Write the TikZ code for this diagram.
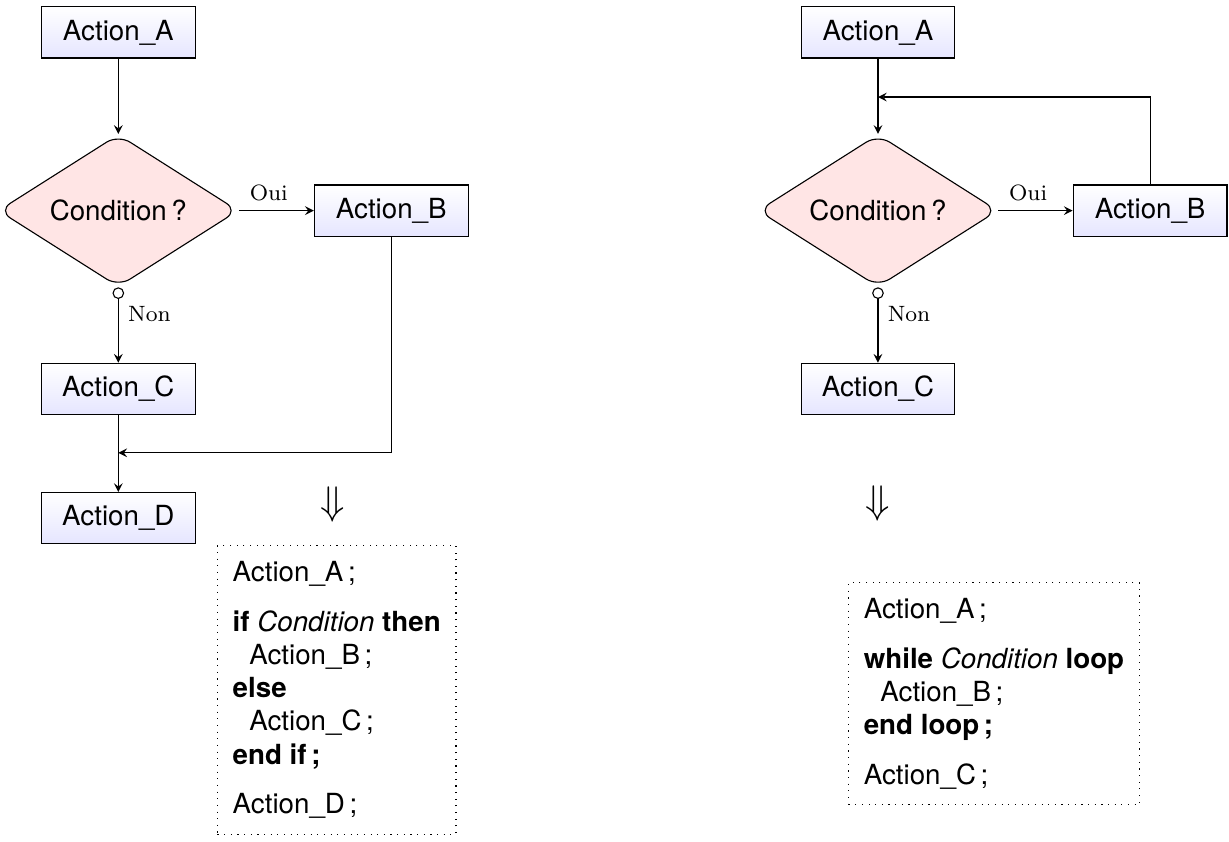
\documentclass[tikz,border=0pt]{standalone}
\usepackage{fontspec}
\setsansfont{TeX Gyre Heros}
\usetikzlibrary{shapes.geometric,arrows.meta}

\tikzset{
  action/.style={draw, top color=white, bottom color=blue!10,
    minimum width=1.95cm, minimum height=0.65cm, font=\sffamily},
  decision/.style={draw, diamond, aspect=1.6, fill=red!10, rounded corners=5pt,
    minimum width=3.04cm, minimum height=1.93cm, font=\sffamily},
  code/.style={draw, dotted, anchor=north west, align=left,
    inner sep=5.5pt, font=\sffamily},
  lbl/.style={font=\footnotesize},
  imply/.style={font=\Large},
}

\begin{document}
\begin{tikzpicture}[>=stealth]
    \useasboundingbox (0,0) rectangle (15.58,-10.67);
    % if ... then ... else
    \node[action] (A) at (1.50,-0.41) {Action\_A};
    \node[decision] (T) at (1.50,-2.67) {Condition\,?};
    \node[action] (B) at (4.96,-2.67) {Action\_B};
    \node[action] (C) at (1.50,-4.93) {Action\_C};
    \node[action] (D) at (1.50,-6.57) {Action\_D};
    \coordinate (J) at (1.50,-5.74);
    \draw[->] (A) -- (T);
    \draw[->] (T) -- node[lbl,above,pos=0.4] {Oui} (B);
    \draw[{Circle[open,length=4.2pt]}->] (T) -- node[lbl,right,pos=0.35] {Non} (C);
    \draw[->] (C) -- (D);
    \draw[->] (B.south) |- (J);
    \node[imply] (I) at (4.22,-6.40) {$\Downarrow$};
    \node[code] (P) at (2.75,-6.91) {Action\_A\,;\\[6pt]
      \textbf{if} \textit{Condition} \textbf{then}\\
      \hspace*{6pt}Action\_B\,;\\
      \textbf{else}\\
      \hspace*{6pt}Action\_C\,;\\
      \textbf{end if\,;}\\[6pt]
      Action\_D\,;};
    % while ... loop
    \node[action] (A2) at (11.13,-0.41) {Action\_A};
    \node[decision] (T2) at (11.13,-2.67) {Condition\,?};
    \node[action] (B2) at (14.58,-2.67) {Action\_B};
    \node[action] (C2) at (11.13,-4.93) {Action\_C};
    \coordinate (J2) at (11.13,-1.23);
    \draw[->] (A2) -- (T2);
    \draw[->] (T2) -- node[lbl,above,pos=0.4] {Oui} (B2);
    \draw[{Circle[open,length=4.2pt]}->] (T2) -- node[lbl,right,pos=0.35] {Non} (C2);
    \draw[->] (B2.north) |- (J2);
    \node[imply] (I2) at (11.13,-6.38) {$\Downarrow$};
    \node[code] (P2) at (10.75,-7.38) {Action\_A\,;\\[6pt]
      \textbf{while} \textit{Condition} \textbf{loop}\\
      \hspace*{6pt}Action\_B\,;\\
      \textbf{end loop\,;}\\[6pt]
      Action\_C\,;};
\end{tikzpicture}
\end{document}
